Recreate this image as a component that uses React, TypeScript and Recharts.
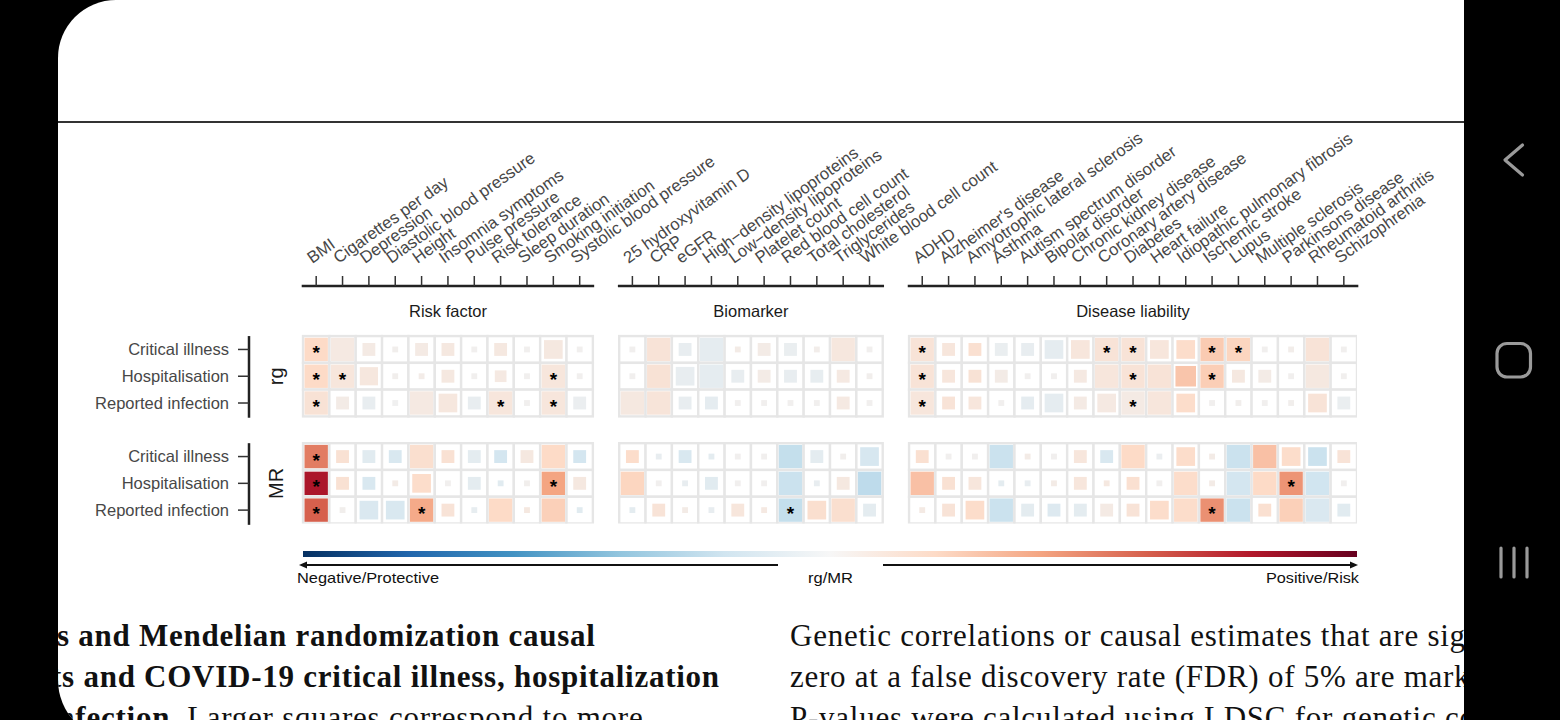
import { ScatterChart, Scatter, XAxis, YAxis, ReferenceLine, ReferenceArea } from "recharts";

const RISK_FACTORS = [
  "BMI", "Cigarettes per day", "Depression", "Diastolic blood pressure", "Height",
  "Insomnia symptoms", "Pulse pressure", "Risk tolerance", "Sleep duration",
  "Smoking initiation", "Systolic blood pressure",
];
const BIOMARKERS = [
  "25 hydroxyvitamin D", "CRP", "eGFR", "High−density lipoproteins", "Low−density lipoproteins",
  "Platelet count", "Red blood cell count", "Total cholesterol", "Triglycerides", "White blood cell count",
];
const DISEASES = [
  "ADHD", "Alzheimer's disease", "Amyotrophic lateral sclerosis", "Asthma", "Autism spectrum disorder",
  "Bipolar disorder", "Chronic kidney disease", "Coronary artery disease", "Diabetes", "Heart failure",
  "Idiopathic pulmonary fibrosis", "Ischemic stroke", "Lupus", "Multiple sclerosis", "Parkinsons disease",
  "Rheumatoid arthritis", "Schizophrenia",
];
const OUTCOMES = ["Critical illness", "Hospitalisation", "Reported infection"];

// effect = rg or MR estimate (colour), strength = significance (square size), sig = FDR 5%
const RISK_RG_EFFECT = [
  [0.2, 0.07, 0.06, 0.02, 0.06, 0.08, 0.01, 0.08, 0.01, 0.08, 0.01],
  [0.2, 0.1, 0.09, 0.02, 0.04, 0.08, 0.01, 0.07, 0.01, 0.1, 0.01],
  [0.13, 0.05, -0.05, 0.0, 0.07, 0.09, -0.05, 0.1, 0.01, 0.1, -0.03],
];
const RISK_RG_STRENGTH = [
  [1, 1, 0.55, 0.25, 0.55, 0.55, 0.25, 0.55, 0.25, 0.8, 0.25],
  [1, 1, 0.78, 0.25, 0.25, 0.55, 0.25, 0.5, 0.25, 1, 0.25],
  [1, 0.55, 0.55, 0.25, 1, 0.8, 0.55, 1, 0.25, 1, 0.55],
];
const RISK_RG_SIG = [[0], [0, 1, 9], [0, 7, 9]];

const RISK_MR_EFFECT = [
  [0.52, 0.14, -0.1, -0.15, 0.16, 0.14, -0.08, -0.18, 0.08, 0.2, -0.18],
  [0.82, 0.14, -0.15, 0.05, 0.18, 0.01, -0.08, -0.1, 0.02, 0.4, 0.08],
  [0.6, 0.02, -0.14, -0.15, 0.38, 0.12, -0.06, 0.2, 0.08, 0.24, -0.1],
];
const RISK_MR_STRENGTH = [
  [1, 0.55, 0.55, 0.55, 1, 0.55, 0.55, 0.55, 0.55, 1, 0.55],
  [1, 0.55, 0.55, 0.25, 0.8, 0.25, 0.55, 0.25, 0.25, 1, 0.55],
  [1, 0.25, 0.8, 0.8, 1, 0.55, 0.25, 1, 0.25, 1, 0.25],
];
const RISK_MR_SIG = [[0], [0, 9], [0, 4]];

const BIO_RG_EFFECT = [
  [0.01, 0.12, -0.05, -0.07, 0.05, 0.05, -0.04, 0.03, 0.09, 0.01],
  [0.01, 0.13, -0.05, -0.07, -0.05, 0.05, -0.05, -0.06, 0.07, 0.02],
  [0.08, 0.11, -0.05, -0.07, 0.01, 0.01, 0.01, 0.01, 0.07, 0.01],
];
const BIO_RG_STRENGTH = [
  [0.25, 1, 0.55, 1, 0.25, 0.55, 0.55, 0.25, 1, 0.25],
  [0.25, 1, 0.8, 1, 0.55, 0.55, 0.55, 0.55, 0.55, 0.25],
  [1, 1, 0.55, 0.55, 0.25, 0.25, 0.25, 0.25, 0.55, 0.25],
];
const BIO_RG_SIG: number[][] = [[], [], []];

const BIO_MR_EFFECT = [
  [0.18, -0.05, -0.15, -0.08, 0.01, 0.01, -0.24, -0.08, 0.02, -0.16],
  [0.22, 0.01, -0.05, -0.1, 0.01, 0.01, -0.22, -0.05, 0.08, -0.26],
  [-0.08, 0.12, 0.05, -0.05, 0.1, 0.07, -0.24, 0.16, 0.16, -0.08],
];
const BIO_MR_STRENGTH = [
  [0.55, 0.25, 0.55, 0.25, 0.25, 0.25, 1, 0.55, 0.25, 0.8],
  [1, 0.25, 0.25, 0.55, 0.25, 0.25, 1, 0.25, 0.55, 1],
  [0.25, 0.55, 0.25, 0.25, 0.55, 0.25, 1, 0.8, 1, 0.55],
];
const BIO_MR_SIG = [[], [], [6]];

const DIS_RG_EFFECT = [
  [0.12, 0.1, 0.15, -0.04, -0.05, -0.07, 0.1, 0.12, 0.12, 0.1, 0.18, 0.26, 0.22, 0.01, 0.03, 0.12, 0.01],
  [0.12, 0.1, 0.13, 0.05, 0.01, 0.01, 0.07, 0.1, 0.12, 0.12, 0.28, 0.25, 0.08, 0.05, 0.01, 0.08, 0.01],
  [0.1, 0.12, 0.1, 0.01, -0.07, -0.07, 0.06, 0.07, 0.06, 0.1, 0.18, 0.01, 0.02, 0.01, 0.02, 0.12, -0.04],
];
const DIS_RG_STRENGTH = [
  [1, 0.55, 0.55, 0.55, 0.55, 0.8, 0.8, 1, 1, 0.8, 0.8, 1, 1, 0.25, 0.25, 1, 0.25],
  [1, 0.55, 0.55, 0.55, 0.25, 0.25, 0.55, 1, 1, 1, 0.88, 1, 0.55, 0.55, 0.25, 1, 0.25],
  [1, 0.55, 0.55, 0.25, 0.55, 0.8, 0.55, 0.8, 1, 1, 0.8, 0.25, 0.25, 0.25, 0.25, 0.8, 0.55],
];
const DIS_RG_SIG = [[0, 7, 8, 11, 12], [0, 8, 11], [0, 8]];

const DIS_MR_EFFECT = [
  [0.15, 0.01, 0.01, -0.22, 0.05, 0.01, 0.1, -0.15, 0.2, -0.03, 0.18, 0.05, -0.22, 0.3, 0.18, -0.22, 0.12],
  [0.3, 0.14, 0.1, -0.08, -0.05, 0.05, 0.1, 0.08, 0.15, 0.01, 0.18, 0.05, -0.18, 0.2, 0.45, -0.2, 0.01],
  [0.06, 0.12, 0.18, -0.22, -0.08, -0.12, -0.08, 0.06, 0.12, 0.18, 0.18, 0.46, -0.22, 0.15, 0.24, -0.14, -0.1],
];
const DIS_MR_STRENGTH = [
  [0.55, 0.25, 0.25, 1, 0.25, 0.25, 0.55, 0.55, 1, 0.25, 0.8, 0.25, 1, 1, 0.8, 0.8, 0.55],
  [1, 0.55, 0.55, 0.25, 0.25, 0.25, 0.55, 0.25, 0.55, 0.25, 1, 0.25, 1, 1, 1, 1, 0.25],
  [0.25, 0.55, 0.8, 1, 0.55, 0.55, 0.55, 0.55, 0.55, 0.8, 1, 1, 1, 0.55, 1, 1, 0.55],
];
const DIS_MR_SIG = [[], [14], [11]];

const RDBU = [
  "#053061", "#2166ac", "#4393c3", "#92c5de", "#d1e5f0", "#f0f0f0",
  "#fddbc7", "#f4a582", "#d6604d", "#b2182b", "#67001f",
];

const PANELS = [
  { title: "Risk factor", names: RISK_FACTORS, start: 0,
    rg: [RISK_RG_EFFECT, RISK_RG_STRENGTH, RISK_RG_SIG], mr: [RISK_MR_EFFECT, RISK_MR_STRENGTH, RISK_MR_SIG] },
  { title: "Biomarker", names: BIOMARKERS, start: RISK_FACTORS.length + 1,
    rg: [BIO_RG_EFFECT, BIO_RG_STRENGTH, BIO_RG_SIG], mr: [BIO_MR_EFFECT, BIO_MR_STRENGTH, BIO_MR_SIG] },
  { title: "Disease liability", names: DISEASES, start: RISK_FACTORS.length + BIOMARKERS.length + 2,
    rg: [DIS_RG_EFFECT, DIS_RG_STRENGTH, DIS_RG_SIG], mr: [DIS_MR_EFFECT, DIS_MR_STRENGTH, DIS_MR_SIG] },
];
const METHODS = [{ name: "rg", key: "rg", row0: 0 }, { name: "MR", key: "mr", row0: OUTCOMES.length + 1 }];

const cells: any[] = [];
const xLabels: Record<number, string> = {};
PANELS.forEach((p) => {
  p.names.forEach((n, i) => (xLabels[p.start + i] = n));
  METHODS.forEach((m) => {
    const [eff, str, sig] = (p as any)[m.key];
    OUTCOMES.forEach((_, o) => {
      p.names.forEach((_, i) => {
        cells.push({ x: p.start + i, y: m.row0 + o, effect: eff[o][i], strength: str[o][i], sig: sig[o].includes(i) });
      });
    });
  });
});
const xTicks = Object.keys(xLabels).map(Number);
const yLabels: Record<number, string> = {};
METHODS.forEach((m) => OUTCOMES.forEach((o, i) => (yLabels[m.row0 + i] = o)));
const yTicks = Object.keys(yLabels).map(Number);

const W = 1464, H = 560;
const MARGIN = { top: 136, right: 107, bottom: 36.5, left: 49 };
const Y_AXIS_W = 200, X_AXIS_H = 150;
const X_MIN = -2.55, X_MAX = 39.5, Y_MIN = -2.37, Y_MAX = 6.5;
const CW = (W - MARGIN.left - MARGIN.right - Y_AXIS_W) / (X_MAX - X_MIN);
const CH = (H - MARGIN.top - MARGIN.bottom - X_AXIS_H) / (Y_MAX - Y_MIN);
const SANS = "'Liberation Sans', Arial, sans-serif";
const SERIF = "'Liberation Serif', 'Times New Roman', serif";

function hex(c: string) {
  return [1, 3, 5].map((k) => parseInt(c.slice(k, k + 2), 16));
}
function rdbu(v: number) {
  const t = ((Math.max(-1, Math.min(1, v)) + 1) / 2) * 10;
  const i = Math.min(9, Math.floor(t));
  const f = t - i;
  const a = hex(RDBU[i]), b = hex(RDBU[i + 1]);
  return `rgb(${a.map((x, k) => Math.round(x + (b[k] - x) * f)).join(",")})`;
}

const CellShape = (props: any) => {
  const { cx, cy, payload } = props;
  const side = payload.strength * (Math.min(CW, CH) - 3);
  return (
    <g>
      <rect x={cx - CW / 2} y={cy - CH / 2} width={CW} height={CH} fill="#fff" stroke="#e6e6e6" strokeWidth={2.4} />
      <rect x={cx - side / 2} y={cy - side / 2} width={side} height={side} fill={rdbu(payload.effect)} />
      {payload.sig && (
        <text x={cx} y={cy + 10} textAnchor="middle" fontSize={19} fontWeight="bold" fontFamily={SANS} fill="#000">*</text>
      )}
    </g>
  );
};

const TopTick = (props: any) => {
  const { x, y, payload } = props;
  const tx = x - 4, ty = y - 12;
  return (
    <text x={tx} y={ty} transform={`rotate(-35.5, ${tx}, ${ty})`} fontSize={16.7} fill="#474747" fontFamily={SANS}>
      {xLabels[payload.value]}
    </text>
  );
};

function Heatmap() {
  return (
    <ScatterChart width={W} height={H} margin={MARGIN}>
      <XAxis
        xAxisId={0} type="number" dataKey="x" orientation="top" domain={[X_MIN, X_MAX]} ticks={xTicks}
        interval={0} height={X_AXIS_H} tick={<TopTick />} tickSize={10} tickMargin={0} axisLine={false}
        tickLine={{ stroke: "#333", strokeWidth: 1.5 }} allowDataOverflow
      />
      <YAxis
        yAxisId={0} type="number" dataKey="y" domain={[Y_MIN, Y_MAX]} reversed ticks={yTicks} interval={0}
        width={Y_AXIS_W} tickFormatter={(v: number) => yLabels[v]} tickSize={11} tickMargin={9} axisLine={false}
        tick={{ fontSize: 16.5, fill: "#474747", fontFamily: SANS }} tickLine={{ stroke: "#333", strokeWidth: 1.5 }}
        allowDataOverflow
      />
      {PANELS.map((p) => (
        <ReferenceArea
          key={p.title} x1={p.start - 0.5} x2={p.start + p.names.length - 0.5} y1={Y_MIN} y2={-0.5}
          fill="#fff" fillOpacity={0} stroke="none" ifOverflow="visible"
          label={{ value: p.title, position: "center", fontSize: 16.5, fill: "#1a1a1a", fontFamily: SANS }}
        />
      ))}
      {METHODS.map((m) => (
        <ReferenceArea
          key={m.name} x1={X_MIN} x2={-0.5} y1={m.row0 - 0.5} y2={m.row0 + OUTCOMES.length - 0.5}
          fill="#fff" fillOpacity={0} stroke="none" ifOverflow="visible"
          label={{ value: m.name, position: "center", angle: -90, fontSize: 20, fill: "#1a1a1a", fontFamily: SANS }}
        />
      ))}
      {PANELS.map((p) => (
        <ReferenceLine
          key={p.title + "-axis"} ifOverflow="visible" stroke="#222" strokeWidth={2.5}
          segment={[{ x: p.start - 0.55, y: Y_MIN }, { x: p.start + p.names.length - 0.45, y: Y_MIN }]}
        />
      ))}
      {METHODS.map((m) => (
        <ReferenceLine
          key={m.name + "-axis"} ifOverflow="visible" stroke="#222" strokeWidth={2.5}
          segment={[{ x: X_MIN, y: m.row0 - 0.5 }, { x: X_MIN, y: m.row0 + OUTCOMES.length - 0.45 }]}
        />
      ))}
      <Scatter data={cells} shape={<CellShape />} isAnimationActive={false} />
    </ScatterChart>
  );
}

function ColourLegend() {
  return (
    <svg width={1464} height={600} style={{ position: "absolute", left: 0, top: 0, pointerEvents: "none" }}>
      <defs>
        <linearGradient id="rdbu" x1="0" x2="1" y1="0" y2="0">
          {RDBU.map((c, i) => (
            <stop key={i} offset={i / (RDBU.length - 1)} stopColor={i === 5 ? "#f7f7f7" : c} />
          ))}
        </linearGradient>
      </defs>
      <rect x={303} y={551} width={1054} height={6} fill="url(#rdbu)" />
      <line x1={305} x2={778} y1={565} y2={565} stroke="#111" strokeWidth={2} />
      <polygon points="299,565 307,561.5 307,568.5" fill="#111" />
      <line x1={883} x2={1352} y1={565} y2={565} stroke="#111" strokeWidth={2} />
      <polygon points="1358,565 1350,561.5 1350,568.5" fill="#111" />
      <g fontFamily={SANS} fontSize={14.5} fill="#111">
        <text x={297} y={583} textLength={142} lengthAdjust="spacingAndGlyphs">Negative/Protective</text>
        <text x={808} y={583} textLength={45} lengthAdjust="spacingAndGlyphs">rg/MR</text>
        <text x={1266} y={583} textLength={93} lengthAdjust="spacingAndGlyphs">Positive/Risk</text>
      </g>
    </svg>
  );
}

function NavBar() {
  return (
    <svg width={96} height={720} style={{ position: "absolute", left: 1464, top: 0 }}>
      <g stroke="#9a9a9a" strokeWidth={3.2} fill="none" strokeLinecap="round" strokeLinejoin="round">
        <polyline points="58.5,145 41,160 58.5,175" />
        <rect x={33} y={343.5} width={33.5} height={33.5} rx={10} />
        <line x1={37} x2={37} y1={548} y2={577} />
        <line x1={50} x2={50} y1={548} y2={577} />
        <line x1={63} x2={63} y1={548} y2={577} />
      </g>
    </svg>
  );
}

const captionLine = (top: number, left: number, children: any) => (
  <div
    style={{
      position: "absolute", top, left, whiteSpace: "nowrap", fontFamily: SERIF, fontSize: 31,
      lineHeight: "31px", letterSpacing: 0.75, color: "#111",
    }}
  >
    {children}
  </div>
);

export default function App() {
  return (
    <div style={{ position: "fixed", left: 0, top: 0, width: 1560, height: 720, background: "#000", overflow: "hidden" }}>
      <div
        style={{
          position: "absolute", left: 58, top: 0, width: 1406, height: 740, background: "#fff",
          borderTopLeftRadius: 58, borderBottomLeftRadius: 60, overflow: "hidden",
        }}
      >
        <div style={{ position: "absolute", left: 0, top: 121, width: 1406, height: 2, background: "#333" }} />
        {captionLine(620, -1, <b>s and Mendelian randomization causal</b>)}
        {captionLine(661, -7, <b>ts and COVID-19 critical illness, hospitalization</b>)}
        {captionLine(702, -10, <><b>infection.</b> Larger squares correspond to more</>)}
        {captionLine(620, 732, "Genetic correlations or causal estimates that are significantly different from")}
        {captionLine(661, 732, "zero at a false discovery rate (FDR) of 5% are marked with an asterisk.")}
        {captionLine(702, 732, "P-values were calculated using LDSC for genetic correlations")}
      </div>
      <div style={{ position: "absolute", left: 0, top: 0 }}>
        <Heatmap />
      </div>
      <ColourLegend />
      <NavBar />
    </div>
  );
}
